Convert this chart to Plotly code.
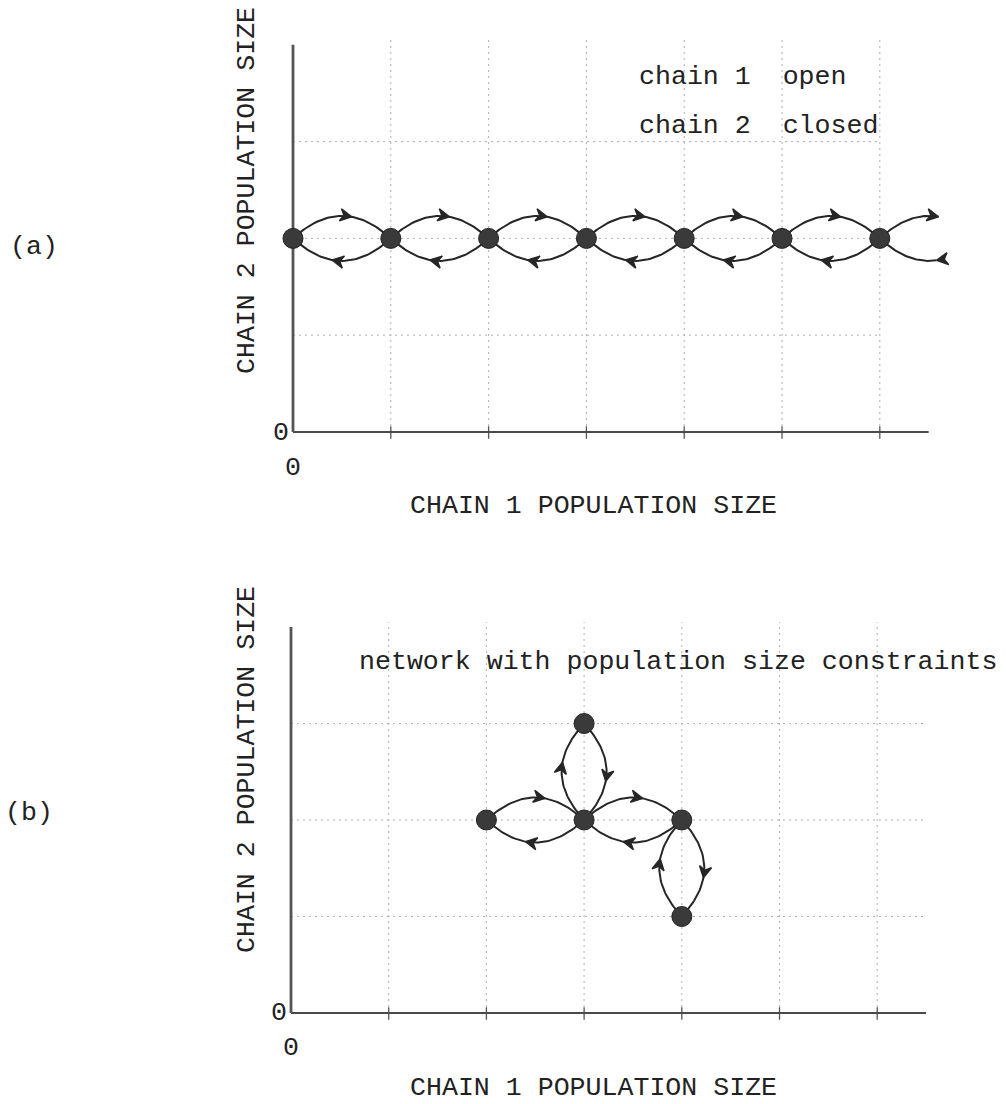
import numpy as np
import plotly.graph_objects as go

W, H = 1006, 1104

# ---------------- data ----------------
# Panel (a): chain 1 open, chain 2 closed -> states along y = 2
nodes_a_x = [0, 1, 2, 3, 4, 5, 6]
nodes_a_y = [2, 2, 2, 2, 2, 2, 2]
links_a = [(0, 1), (1, 2), (2, 3), (3, 4), (4, 5), (5, 6)]
exit_a_from = (6, 2)   # open end: transitions to the state beyond the drawn range
exit_a_to = (7, 2)

# Panel (b): network with population size constraints
nodes_b_x = [2, 3, 3, 4, 4]
nodes_b_y = [2, 2, 3, 2, 1]
links_b = [(0, 1), (1, 2), (1, 3), (3, 4)]

grid_x = [1, 2, 3, 4, 5, 6]
grid_y = [1, 2, 3]
grid_y_end_a = 6.0
grid_y_end_b = 6.5
x_axis_end = 6.5
y_axis_end = 4

x_label = "CHAIN 1 POPULATION SIZE"
y_label = "CHAIN 2 POPULATION SIZE"
zero_label = "0"
text_a = ["chain 1\u00a0\u00a0open", "chain 2\u00a0\u00a0closed"]
text_b = "network with population size constraints"

# ---------------- geometry (pixels) ----------------
XR = [-0.15, 6.85]
YR = [-0.15, 4.15]
panels = {
    "a": dict(x0=293, y0=432, ux=97.8, uy=96.8),
    "b": dict(x0=291, y0=1013, ux=97.7, uy=96.5),
}

BULGE = 22.5      # px
T_TIP = 0.6
BARB = 13.0       # px
BARB_ANG = np.deg2rad(28)

FONT = "Liberation Mono, Courier New, monospace"
INK = "#262626"
GRID = "#b0b0b0"


def domains(p):
    xd = [(p["x0"] + XR[0] * p["ux"]) / W, (p["x0"] + XR[1] * p["ux"]) / W]
    ybot = p["y0"] - YR[0] * p["uy"]
    ytop = p["y0"] - YR[1] * p["uy"]
    yd = [1 - ybot / H, 1 - ytop / H]
    return xd, yd


def arc(P, Q, p, t0=0.0, t1=1.0, n=50):
    s = np.array([p["ux"], p["uy"]])
    Pp = np.array(P, float) * s
    Qp = np.array(Q, float) * s
    d = Qp - Pp
    u = d / np.linalg.norm(d)
    nrm = np.array([-u[1], u[0]])
    t = np.linspace(t0, t1, n)
    pts = Pp + np.outer(t, d) + np.outer(4 * BULGE * t * (1 - t), nrm)
    return pts / s


def arrowhead(P, Q, p, t=T_TIP):
    s = np.array([p["ux"], p["uy"]])
    Pp = np.array(P, float) * s
    Qp = np.array(Q, float) * s
    d = Qp - Pp
    u = d / np.linalg.norm(d)
    nrm = np.array([-u[1], u[0]])
    tip = Pp + t * d + 4 * BULGE * t * (1 - t) * nrm
    tan = d + 4 * BULGE * (1 - 2 * t) * nrm
    tan = tan / np.linalg.norm(tan)
    barbs = []
    for a in (BARB_ANG, -BARB_ANG):
        r = np.array([tan[0] * np.cos(a) - tan[1] * np.sin(a),
                      tan[0] * np.sin(a) + tan[1] * np.cos(a)])
        barbs.append(tip - BARB * r)
    notch = tip - 0.6 * BARB * tan
    pts = np.array([barbs[0], tip, barbs[1], notch, barbs[0]]) / s
    return pts


fig = go.Figure()


def add_panel(key, xa, ya, nx, ny, links, grid_end, exit_pair=None):
    p = panels[key]
    xref = "x" if xa == "xaxis" else "x2"
    yref = "y" if ya == "yaxis" else "y2"

    # grid
    gx, gy = [], []
    for g in grid_x:
        gx += [g, g, None]
        gy += [0, y_axis_end + 0.05, None]
    for g in grid_y:
        gx += [0, grid_end, None]
        gy += [g, g, None]
    fig.add_trace(go.Scatter(x=gx, y=gy, mode="lines", xaxis=xref, yaxis=yref,
                             line=dict(color=GRID, width=1, dash="2px,4px"),
                             hoverinfo="skip", showlegend=False))
    # ticks on x axis
    tx, ty = [], []
    for g in grid_x:
        tx += [g, g, None]
        ty += [-0.07, 0.06, None]
    fig.add_trace(go.Scatter(x=tx, y=ty, mode="lines", xaxis=xref, yaxis=yref,
                             line=dict(color="#555", width=1.3),
                             hoverinfo="skip", showlegend=False))
    # axes
    fig.add_trace(go.Scatter(x=[0, x_axis_end], y=[0, 0], mode="lines",
                             xaxis=xref, yaxis=yref,
                             line=dict(color="#4a4a4a", width=1.8),
                             hoverinfo="skip", showlegend=False))
    fig.add_trace(go.Scatter(x=[0, 0], y=[0, y_axis_end], mode="lines",
                             xaxis=xref, yaxis=yref,
                             line=dict(color="#555", width=2.8),
                             hoverinfo="skip", showlegend=False))

    # arcs + arrowheads
    ax_, ay_, cx, cy = [], [], [], []
    for i, j in links:
        A = (nx[i], ny[i])
        B = (nx[j], ny[j])
        for P, Q in ((A, B), (B, A)):
            pts = arc(P, Q, p)
            ax_ += list(pts[:, 0]) + [None]
            ay_ += list(pts[:, 1]) + [None]
            ch = arrowhead(P, Q, p)
            cx += list(ch[:, 0]) + [None]
            cy += list(ch[:, 1]) + [None]
    if exit_pair is not None:
        A, B = exit_pair
        pts = arc(A, B, p, 0.0, T_TIP)
        ax_ += list(pts[:, 0]) + [None]
        ay_ += list(pts[:, 1]) + [None]
        ch = arrowhead(A, B, p)
        cx += list(ch[:, 0]) + [None]
        cy += list(ch[:, 1]) + [None]
        t_back = 1 - T_TIP + 0.02
        pts = arc(B, A, p, t_back, 1.0)
        ax_ += list(pts[:, 0]) + [None]
        ay_ += list(pts[:, 1]) + [None]
        ch = arrowhead(B, A, p, t_back)
        cx += list(ch[:, 0]) + [None]
        cy += list(ch[:, 1]) + [None]
    fig.add_trace(go.Scatter(x=ax_, y=ay_, mode="lines", xaxis=xref, yaxis=yref,
                             line=dict(color=INK, width=2.0),
                             hoverinfo="skip", showlegend=False))
    fig.add_trace(go.Scatter(x=cx, y=cy, mode="lines", xaxis=xref, yaxis=yref,
                             fill="toself", fillcolor=INK,
                             line=dict(color=INK, width=1.4),
                             hoverinfo="skip", showlegend=False))
    # nodes
    fig.add_trace(go.Scatter(x=nx, y=ny, mode="markers", xaxis=xref, yaxis=yref,
                             marker=dict(size=20, color="#3a3a3a",
                                         line=dict(width=1, color="#222")),
                             hoverinfo="skip", showlegend=False))

    xd, yd = domains(p)
    axis_common = dict(showgrid=False, zeroline=False, showticklabels=False,
                       showline=False, ticks="", fixedrange=True)
    fig.update_layout(**{
        xa: dict(domain=xd, range=XR, anchor=yref, **axis_common),
        ya: dict(domain=yd, range=YR, anchor=xref, **axis_common),
    })


add_panel("a", "xaxis", "yaxis", nodes_a_x, nodes_a_y, links_a, grid_y_end_a,
          exit_pair=(exit_a_from, exit_a_to))
add_panel("b", "xaxis2", "yaxis2", nodes_b_x, nodes_b_y, links_b, grid_y_end_b)


def ann(text, px, py, size=26.6, xanchor="center", angle=0):
    return dict(text=text, x=px / W, y=1 - py / H, xref="paper", yref="paper",
                showarrow=False, xanchor=xanchor, yanchor="middle",
                textangle=angle, font=dict(family=FONT, size=size, color="#222"))


annotations = [
    ann("(a)", 34, 247),
    ann("(b)", 29, 813),
    ann(y_label, 247, 191, angle=-90),
    ann(y_label, 247, 770, angle=-90),
    ann(x_label, 593, 506),
    ann(x_label, 593, 1088),
    ann(zero_label, 281, 433),
    ann(zero_label, 293, 468),
    ann(zero_label, 279, 1013),
    ann(zero_label, 291, 1048),
    ann(text_a[0], 637, 77, xanchor="left"),
    ann(text_a[1], 637, 126, xanchor="left"),
    ann(text_b, 357, 662, xanchor="left"),
]

fig.update_layout(width=W, height=H, margin=dict(l=0, r=0, t=0, b=0),
                  paper_bgcolor="white", plot_bgcolor="white",
                  showlegend=False, annotations=annotations)

fig.write_html("out.html")
